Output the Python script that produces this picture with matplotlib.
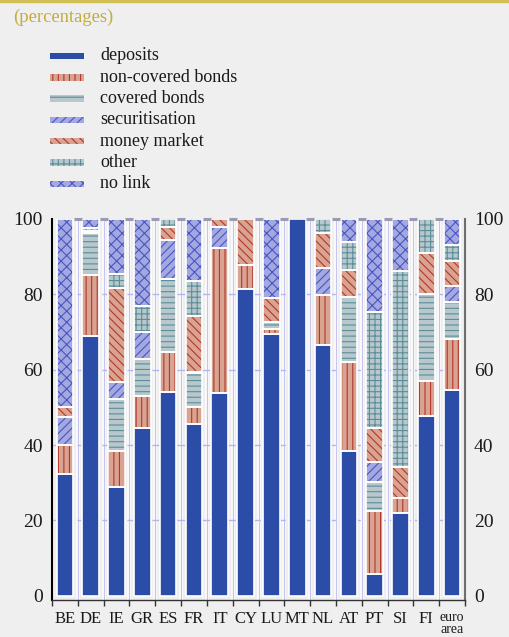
import numpy as np
import matplotlib
matplotlib.use("Agg")
import matplotlib.pyplot as plt
from matplotlib.patches import Rectangle
from matplotlib.lines import Line2D

plt.rcParams['font.family'] = ['Liberation Serif', 'DejaVu Serif']
plt.rcParams['hatch.linewidth'] = 0.8

# funding sources by country, percentages (stacked bottom to top)
countries = ['BE', 'DE', 'IE', 'GR', 'ES', 'FR', 'IT', 'CY', 'LU', 'MT',
             'NL', 'AT', 'PT', 'SI', 'FI', 'euro\narea']
deposits = [32.4, 69.0, 28.8, 44.6, 54.2, 45.5, 53.8, 81.4, 69.5, 100.0,
            66.5, 38.5, 5.8, 21.9, 47.6, 54.6]
non_covered = [7.5, 16.1, 9.7, 8.3, 10.4, 4.7, 38.4, 6.4, 1.2, 0.0,
               13.4, 23.5, 16.6, 4.0, 9.3, 13.5]
covered = [0.0, 11.1, 13.7, 9.9, 19.4, 8.9, 0.0, 0.0, 2.0, 0.0,
           0.0, 17.2, 7.8, 0.0, 23.1, 10.0]
securitisation = [7.6, 0.0, 4.6, 7.1, 10.3, 0.4, 5.6, 0.0, 0.0, 0.0,
                  7.0, 0.0, 5.3, 0.0, 0.0, 4.0]
money_market = [2.5, 0.6, 24.8, 0.0, 3.5, 14.8, 2.2, 12.2, 6.4, 0.0,
                9.3, 7.3, 9.1, 8.2, 10.9, 6.7]
other = [0.0, 0.8, 3.8, 7.0, 2.2, 9.3, 0.0, 0.0, 0.0, 0.0,
         3.8, 7.5, 30.8, 52.1, 9.1, 4.3]
no_link = [50.0, 2.4, 14.6, 23.1, 0.0, 16.4, 0.0, 0.0, 20.9, 0.0,
           0.0, 6.0, 24.6, 13.8, 0.0, 6.9]

series_names = ['deposits', 'non-covered bonds', 'covered bonds', 'securitisation',
                'money market', 'other', 'no link']
series = [deposits, non_covered, covered, securitisation, money_market, other, no_link]

# fill colour, hatch colour, hatch pattern
SALMON, RED = '#d9a391', '#b3372a'
GREYBLUE, TEAL = '#b7c7cb', '#5a8e99'
LAVENDER, BLUE = '#a4a8e0', '#4856c2'
styles = [
    ('#2b4da7', '#2b4da7', None),
    (SALMON, RED, '|||'),
    (GREYBLUE, TEAL, '---'),
    (LAVENDER, BLUE, '////'),
    (SALMON, RED, '\\\\\\\\'),
    (GREYBLUE, TEAL, '+++'),
    (LAVENDER, BLUE, 'xxx'),
]

BG = '#efefef'
fig = plt.figure(figsize=(5.09, 6.37), dpi=100, facecolor=BG)
ax = fig.add_axes([52 / 509, 1 - 600 / 637, 413 / 509, 381 / 637])
ax.set_facecolor(BG)

x = np.arange(len(countries))
width = 0.645

# separators between the columns
for b in np.arange(0.5, len(countries) - 1, 1):
    ax.axvline(b, color='white', lw=3.0, alpha=0.7, zorder=0.5)
    ax.axvline(b, color='#c4c4ee', lw=0.8, zorder=0.6)
for g in [20, 40, 60, 80]:
    ax.axhline(g, color='#b4b4f0', lw=1.0, dashes=(6, 3), zorder=0.7)

bottom = np.zeros(len(countries))
for vals, (fc, hc, hatch) in zip(series, styles):
    vals = np.array(vals)
    keep = vals > 0
    ax.bar(x[keep], vals[keep], width, bottom=bottom[keep], color=fc,
           edgecolor=hc, hatch=hatch, linewidth=0, zorder=2)
    ax.bar(x[keep], vals[keep], width, bottom=bottom[keep], fill=False,
           edgecolor='white', linewidth=1.2, zorder=3)
    bottom += vals

# little caps on top of the separators
ax.plot(np.arange(0.5, len(countries) - 1, 1), [100] * (len(countries) - 1),
        ls='none', marker='_', ms=5.5, mew=2.2, color='#9a9ab4', clip_on=False, zorder=4)

ax.set_xlim(-0.5, len(countries) - 0.5)
ax.set_ylim(-1.1, 100)
ax.set_yticks([0, 20, 40, 60, 80, 100])
ax.tick_params(axis='y', left=False, right=False, labelleft=True, labelright=True,
               labelsize=14, pad=3, labelcolor='#1a1a1a')
ax.set_xticks(x)
ax.set_xticklabels(countries)
ax.tick_params(axis='x', which='major', length=0, labelsize=12, pad=8, labelcolor='#1a1a1a')
ax.set_xticks(np.arange(-0.5, len(countries), 1), minor=True)
ax.tick_params(axis='x', which='minor', length=4, width=1, color='#333333', direction='out')
lab = ax.get_xticklabels()[-1]
lab.set_fontsize(10)
lab.set_linespacing(0.85)

ax.spines['top'].set_visible(False)
ax.spines['left'].set_color('black')
ax.spines['left'].set_linewidth(1.5)
ax.spines['right'].set_color('#6e6e6e')
ax.spines['right'].set_linewidth(1.5)
ax.spines['bottom'].set_color('#333333')
ax.spines['bottom'].set_linewidth(1.0)

# header line and unit note
fig.add_artist(Line2D([0, 1], [1 - 1 / 637, 1 - 1 / 637], color='#d2bf55', lw=2.5))
fig.text(13 / 509, 1 - 17 / 637, '(percentages)', color='#c2ad3c', fontsize=13.4,
         va='center', ha='left')

# legend
for i, (name, (fc, hc, hatch)) in enumerate(zip(series_names, styles)):
    yc = 56 + i * 21.3
    fig.add_artist(Rectangle((50 / 509, 1 - (yc + 3.2) / 637), 34 / 509, 6.4 / 637,
                             transform=fig.transFigure, facecolor=fc, edgecolor=hc,
                             hatch=hatch, linewidth=0))
    fig.text(100 / 509, 1 - yc / 637, name, fontsize=13, va='center', ha='left',
             color='#1a1a1a')

fig.savefig('out.png', dpi=100, facecolor=BG)
